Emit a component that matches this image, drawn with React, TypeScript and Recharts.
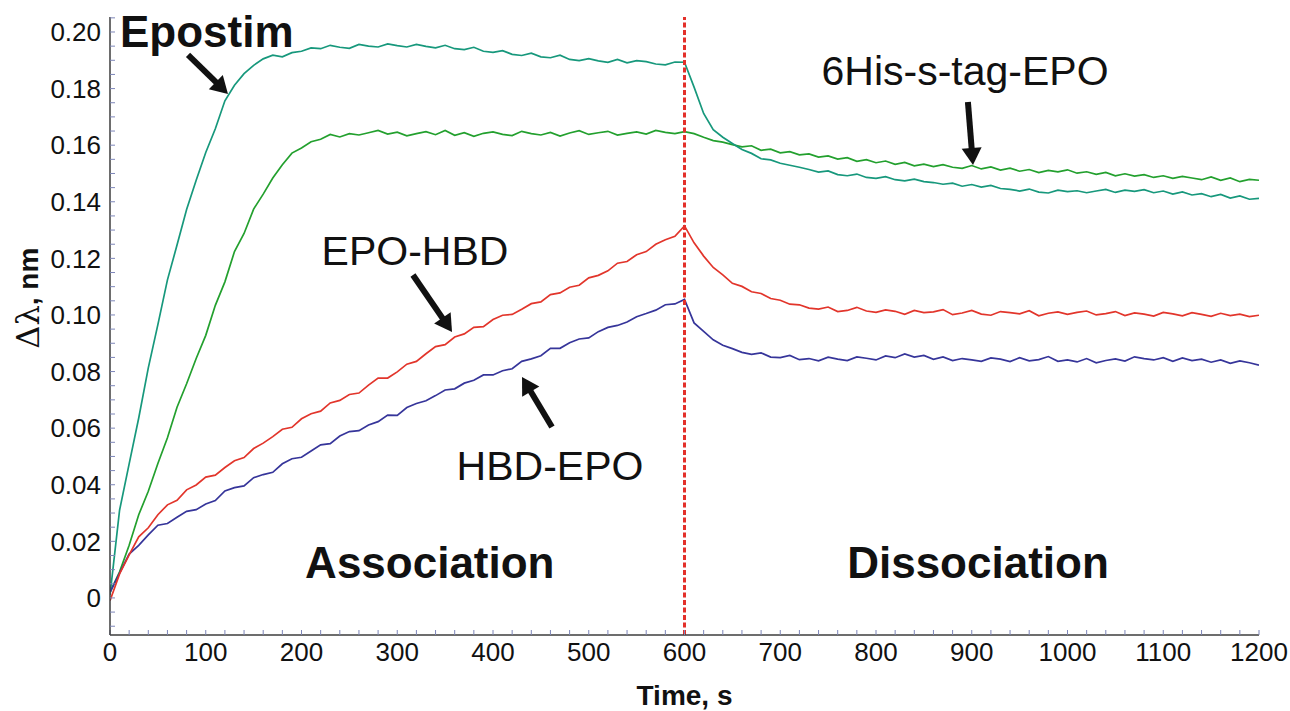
import React from "react";
import {
  LineChart,
  Line,
  XAxis,
  YAxis,
  ReferenceLine,
  ReferenceDot,
  Label,
} from "recharts";

// sensor time, s
const times = [
  0, 10, 20, 30, 40, 50, 60, 70, 80, 90, 100, 110, 120, 130, 140, 150, 160, 170, 180, 190,
  200, 210, 220, 230, 240, 250, 260, 270, 280, 290, 300, 310, 320, 330, 340, 350, 360, 370, 380, 390,
  400, 410, 420, 430, 440, 450, 460, 470, 480, 490, 500, 510, 520, 530, 540, 550, 560, 570, 580, 590,
  600, 610, 620, 630, 640, 650, 660, 670, 680, 690, 700, 710, 720, 730, 740, 750, 760, 770, 780, 790,
  800, 810, 820, 830, 840, 850, 860, 870, 880, 890, 900, 910, 920, 930, 940, 950, 960, 970, 980, 990,
  1000, 1010, 1020, 1030, 1040, 1050, 1060, 1070, 1080, 1090, 1100, 1110, 1120, 1130, 1140, 1150, 1160, 1170, 1180, 1190,
  1200,
];

const epostim = [
  0.001, 0.031, 0.0474, 0.0636, 0.0813, 0.0966, 0.1124, 0.1247, 0.1373, 0.1476,
  0.1574, 0.1658, 0.1757, 0.1812, 0.1853, 0.1882, 0.1905, 0.1918, 0.1912, 0.1927,
  0.1932, 0.1944, 0.1941, 0.1953, 0.1946, 0.1942, 0.1956, 0.195, 0.1947, 0.1958,
  0.1952, 0.1947, 0.1956, 0.1949, 0.1944, 0.1953, 0.1941, 0.1938, 0.1946, 0.1932,
  0.1928, 0.1934, 0.1921, 0.1917, 0.1925, 0.1912, 0.1909, 0.1918, 0.1903, 0.1899,
  0.1906, 0.1898, 0.1893, 0.1903, 0.1891, 0.1899, 0.1895, 0.1887, 0.1884, 0.1894,
  0.1893,
  0.1805, 0.1712, 0.1655, 0.1628, 0.1606, 0.1585, 0.1571, 0.1552, 0.1548, 0.1536,
  0.1529, 0.1522, 0.1514, 0.1505, 0.1509, 0.1496, 0.1492, 0.1498, 0.1486, 0.1483,
  0.1489, 0.1478, 0.1474, 0.148, 0.1471, 0.1468, 0.1462, 0.1466, 0.1455, 0.1461,
  0.1452, 0.1458, 0.1447, 0.1444, 0.1438, 0.1445, 0.1434, 0.1431, 0.1441, 0.1436,
  0.1439, 0.1432, 0.1438, 0.1444, 0.1433, 0.1441, 0.1437, 0.1443, 0.1432, 0.1438,
  0.1427, 0.1435, 0.1424, 0.1429, 0.1418, 0.1426, 0.1413, 0.1421, 0.1409, 0.1412,
];

const hisTagEpo = [
  0.002, 0.0092, 0.0186, 0.0294, 0.0377, 0.0475, 0.0566, 0.0674, 0.0757, 0.0846,
  0.0928, 0.1034, 0.1117, 0.1224, 0.1288, 0.1374, 0.1427, 0.1484, 0.1531, 0.1572,
  0.159, 0.1612, 0.1621, 0.1638, 0.1629, 0.1641, 0.1636, 0.1644, 0.1652, 0.1639,
  0.1646, 0.1633, 0.1641, 0.1648, 0.1637, 0.1652, 0.1635, 0.1644, 0.1631, 0.1642,
  0.1647, 0.1638, 0.1634, 0.1649, 0.1641, 0.1636, 0.1645, 0.1632, 0.1643, 0.1651,
  0.1638, 0.1644, 0.1649, 0.1636, 0.1642, 0.1647, 0.1639, 0.1652, 0.1645, 0.1641,
  0.1648,
  0.1641, 0.1628, 0.1616, 0.1611, 0.1602, 0.1594, 0.1598, 0.1582, 0.1586, 0.1573,
  0.1577, 0.1566, 0.1569, 0.1558, 0.1562, 0.1551, 0.1556, 0.1543, 0.1549, 0.1538,
  0.1544, 0.1532, 0.1539, 0.1527, 0.1533, 0.1524, 0.1531, 0.1522, 0.1518, 0.1528,
  0.1516, 0.1523, 0.1512, 0.1519, 0.1508, 0.1514, 0.1503, 0.1511, 0.1506, 0.1513,
  0.1501, 0.1506, 0.1497, 0.1504, 0.1492, 0.1499, 0.1491, 0.1496, 0.1486, 0.1492,
  0.1483, 0.149, 0.1484, 0.1478, 0.1488, 0.1476, 0.1484, 0.1471, 0.1479, 0.1476,
];

const epoHbd = [
  -0.001, 0.0085, 0.0152, 0.0216, 0.0248, 0.0294, 0.0329, 0.0345, 0.0382, 0.0399,
  0.0427, 0.0434, 0.0461, 0.0485, 0.0496, 0.0528, 0.0547, 0.057, 0.0596, 0.0603,
  0.0633, 0.0651, 0.066, 0.0689, 0.0698, 0.0719, 0.0724, 0.0752, 0.0777, 0.0777,
  0.0799, 0.0826, 0.0836, 0.0863, 0.0888, 0.0895, 0.0922, 0.0933, 0.0956, 0.0959,
  0.0984, 0.0999, 0.1002, 0.102, 0.104, 0.1046, 0.1072, 0.1078, 0.1098, 0.1105,
  0.1131, 0.114, 0.1156, 0.1183, 0.1189, 0.1213, 0.1224, 0.125, 0.1266, 0.1278,
  0.1315,
  0.1255, 0.1208, 0.1168, 0.1142, 0.1112, 0.1101, 0.1082, 0.1076, 0.1058, 0.1052,
  0.1038, 0.1036, 0.1024, 0.1021, 0.1028, 0.1012, 0.1016, 0.1027, 0.1014, 0.1009,
  0.1018, 0.1013, 0.1002, 0.1016, 0.1008, 0.1011, 0.1019, 0.1001, 0.1007, 0.1016,
  0.1003, 0.0999, 0.1012, 0.1008, 0.1004, 0.1015, 0.0997, 0.1006, 0.1011, 0.1002,
  0.1009, 0.1014, 0.1, 0.1005, 0.1012, 0.0998, 0.1007, 0.1003, 0.0996, 0.1009,
  0.1004, 0.0997, 0.1008, 0.1002, 0.0995, 0.1006, 0.0998, 0.1003, 0.0994, 0.0999,
];

const hbdEpo = [
  0.002, 0.0088, 0.0155, 0.0186, 0.0223, 0.0257, 0.0263, 0.0285, 0.0306, 0.0312,
  0.0332, 0.0344, 0.0378, 0.039, 0.0396, 0.0425, 0.0436, 0.0444, 0.0474, 0.0492,
  0.0497, 0.0519, 0.0541, 0.0545, 0.0572, 0.0588, 0.0591, 0.0611, 0.0623, 0.0646,
  0.0645, 0.0673, 0.0687, 0.0697, 0.0715, 0.0735, 0.0739, 0.0759, 0.0769, 0.0788,
  0.0788, 0.0803, 0.081, 0.0836, 0.0845, 0.0856, 0.0882, 0.0882, 0.0902, 0.0915,
  0.0919, 0.0941, 0.0956, 0.0963, 0.0975, 0.0994, 0.1005, 0.1017, 0.1036, 0.1039,
  0.1055,
  0.0972, 0.0942, 0.0912, 0.0893, 0.0881, 0.0868, 0.0861, 0.0866, 0.0851, 0.0849,
  0.0857, 0.0842, 0.0846, 0.0838, 0.0851, 0.0844, 0.0839, 0.0852, 0.0847, 0.0841,
  0.0855, 0.0849, 0.0862, 0.0851, 0.0857, 0.0843, 0.0852, 0.0839, 0.0846, 0.0841,
  0.0836, 0.0848, 0.0844, 0.0835, 0.0849, 0.0838, 0.0842, 0.0853, 0.0836, 0.0841,
  0.0834, 0.0846, 0.0831, 0.0839, 0.0845, 0.0837, 0.0852, 0.0846, 0.0841, 0.0849,
  0.0836, 0.0848, 0.0839, 0.0844, 0.0833, 0.0841, 0.0829, 0.0838, 0.0831, 0.0823,
];

const xMajor = [0, 100, 200, 300, 400, 500, 600, 700, 800, 900, 1000, 1100, 1200];
const yMajor = [0, 0.02, 0.04, 0.06, 0.08, 0.1, 0.12, 0.14, 0.16, 0.18, 0.2];

// annotation anchors in data units (time, value)
const notes = [
  { text: "Epostim", t: 10.4, v: 0.1947, bold: true, anchor: "start" },
  { text: "6His-s-tag-EPO", t: 893, v: 0.1813, bold: false, anchor: "middle" },
  { text: "EPO-HBD", t: 318.5, v: 0.1177, bold: false, anchor: "middle" },
  { text: "HBD-EPO", t: 459.5, v: 0.0417, bold: false, anchor: "middle" },
  { text: "Association", t: 334, v: 0.0071, bold: true, anchor: "middle" },
  { text: "Dissociation", t: 906.5, v: 0.0071, bold: true, anchor: "middle" },
];

const arrows = [
  { from: [81.5, 0.1919], to: [123.2, 0.1781] },
  { from: [896, 0.1753], to: [901.3, 0.153] },
  { from: [316.4, 0.1141], to: [357.2, 0.094] },
  { from: [461.6, 0.0604], to: [430.3, 0.0781] },
];

const data = times.map((t, i) => ({
  t,
  epostim: epostim[i],
  his: hisTagEpo[i],
  epoHbd: epoHbd[i],
  hbdEpo: hbdEpo[i],
}));

const xMinor: number[] = [];
for (let i = 0; i <= 60; i++) xMinor.push(i * 20);
const yMinor: number[] = [];
for (let i = -2; i <= 41; i++) yMinor.push(Math.round(i * 5) / 1000);

const FONT = "'Liberation Sans', Arial, Helvetica, sans-serif";

const Arrow = (p: any) => {
  const { x1, y1, x2, y2 } = p;
  const dx = x2 - x1;
  const dy = y2 - y1;
  const len = Math.hypot(dx, dy) || 1;
  const ux = dx / len;
  const uy = dy / len;
  const hl = 17;
  const hw = 10;
  const bx = x2 - ux * hl;
  const by = y2 - uy * hl;
  return (
    <g>
      <line x1={x1} y1={y1} x2={bx + ux * 2} y2={by + uy * 2} stroke="#111" strokeWidth={6} />
      <polygon
        points={`${x2},${y2} ${bx - uy * hw},${by + ux * hw} ${bx + uy * hw},${by - ux * hw}`}
        fill="#111"
      />
    </g>
  );
};

const noteShape = (n: any) => (p: any) => (
  <text
    x={p.cx}
    y={p.cy}
    textAnchor={n.anchor}
    fontFamily={FONT}
    fontWeight={n.bold ? 700 : 400}
    fontSize={n.bold ? 44 : 41}
    fill="#111"
  >
    {n.text}
  </text>
);

const XTitle = (props: any) => {
  const vb = props.viewBox;
  return (
    <text
      x={vb.x + vb.width / 2}
      y={vb.y + 70}
      textAnchor="middle"
      fontFamily={FONT}
      fontWeight={700}
      fontSize={28}
      fill="#111"
    >
      Time, s
    </text>
  );
};

const YTitle = (props: any) => {
  const vb = props.viewBox;
  const cx = vb.x - 12;
  const cy = vb.y + vb.height * 0.455;
  return (
    <text
      x={cx}
      y={cy}
      transform={`rotate(-90, ${cx}, ${cy})`}
      textAnchor="middle"
      dominantBaseline="central"
      fill="#111"
    >
      <tspan fontFamily="'DejaVu Serif', 'Liberation Serif', serif" fontSize={32}>
        Δλ
      </tspan>
      <tspan fontFamily={FONT} fontWeight={700} fontSize={28}>
        , nm
      </tspan>
    </text>
  );
};

const yLabel = (v: number) => {
  const m = yMajor.find((y) => Math.abs(y - v) < 1e-6);
  if (m === undefined) return "";
  return m === 0 ? "0" : m.toFixed(2);
};

export default function App() {
  return (
    <div style={{ position: "absolute", left: 0, top: 0, background: "#fff" }}>
      <LineChart
        width={1290}
        height={711}
        data={data}
        margin={{ top: 17, right: 31, left: 40, bottom: 6 }}
      >
        <XAxis
          dataKey="t"
          type="number"
          domain={[0, 1200]}
          ticks={xMinor}
          interval={0}
          allowDataOverflow
          height={70}
          tickSize={-5}
          tickMargin={13}
          axisLine={{ stroke: "#3c3c3c", strokeWidth: 1.5 }}
          tickLine={{ stroke: "#7d86b8", strokeWidth: 1 }}
          tick={{ fill: "#111", fontSize: 26, fontFamily: FONT }}
          tickFormatter={(v: number) => (xMajor.includes(v) ? String(v) : "")}
        >
          <Label content={<XTitle />} />
        </XAxis>
        <YAxis
          type="number"
          domain={[-0.0131, 0.2053]}
          ticks={yMinor}
          interval={0}
          allowDataOverflow
          width={70}
          tickSize={-5}
          tickMargin={14}
          axisLine={{ stroke: "#3c3c3c", strokeWidth: 1.5 }}
          tickLine={{ stroke: "#7d86b8", strokeWidth: 1 }}
          tick={{ fill: "#111", fontSize: 26, fontFamily: FONT }}
          tickFormatter={yLabel}
        >
          <Label content={<YTitle />} />
        </YAxis>

        <Line dataKey="his" stroke="#23a02e" strokeWidth={1.7} dot={false} isAnimationActive={false} />
        <Line dataKey="epostim" stroke="#17987c" strokeWidth={1.7} dot={false} isAnimationActive={false} />
        <Line dataKey="hbdEpo" stroke="#36359a" strokeWidth={1.7} dot={false} isAnimationActive={false} />
        <Line dataKey="epoHbd" stroke="#e2352b" strokeWidth={1.7} dot={false} isAnimationActive={false} />

        <ReferenceLine x={600} stroke="#e3302a" strokeWidth={3} strokeDasharray="5 2.5" />

        {arrows.map((a, i) => (
          <ReferenceLine
            key={`arrow-${i}`}
            segment={[
              { x: a.from[0], y: a.from[1] },
              { x: a.to[0], y: a.to[1] },
            ]}
            ifOverflow="visible"
            shape={Arrow}
          />
        ))}

        {notes.map((n) => (
          <ReferenceDot
            key={n.text}
            x={n.t}
            y={n.v}
            r={0}
            ifOverflow="visible"
            shape={noteShape(n)}
          />
        ))}
      </LineChart>
    </div>
  );
}
